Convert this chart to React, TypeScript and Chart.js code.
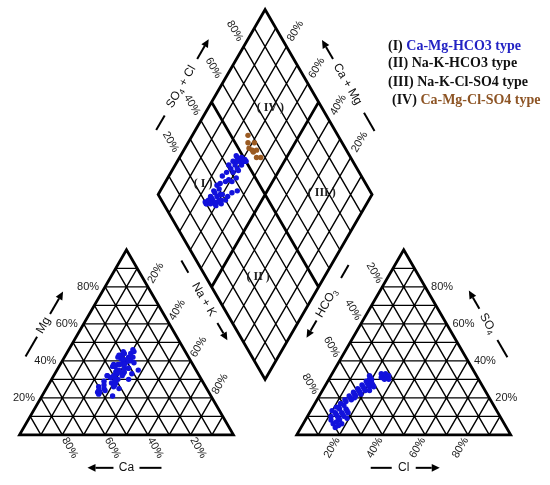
import React, { useEffect, useRef } from "react";
import { Chart, registerables } from "chart.js";

Chart.register(...registerables);

// ---------------- data (percent of meq) ----------------
// cations: Na+K = 100 - Ca - Mg
const sampleCaPct = [
  52, 50, 48, 46, 43, 39, 43, 43, 38, 37, 34, 31, 37, 37, 35, 31, 30, 32, 28, 33, 31, 32, 26, 29, 32,
  52, 46, 48, 41, 47, 41, 34, 42, 35, 36, 37, 29, 31, 29, 33, 38, 41, 43, 51, 40, 42, 28, 24, 26, 32, 51, 37, 38, 24, 40,
  36, 31, 34, 31, 29, 27, 37, 27, 36,
];
const sampleMgPct = [
  23, 26, 25, 29, 28, 30, 32, 32, 34, 35, 34, 36, 37, 38, 38, 39, 40, 41, 42, 42, 43, 43, 44, 45, 39,
  22, 21, 24, 25, 27, 28, 30, 31, 33, 35, 37, 40, 41, 44, 36, 33, 29, 26, 23, 31, 27, 40, 46, 42, 38, 24, 34, 37, 45, 32,
  34, 36, 38, 33, 40, 35, 37, 39, 32,
];
// anions: HCO3 = 100 - SO4 - Cl
const sampleSo4Pct = [
  4, 6, 6, 8, 8, 9, 10, 10, 10, 12, 12, 12, 13, 14, 14, 15, 16, 7, 11, 5, 9, 13, 15, 11, 17,
  18, 19, 20, 21, 21, 22, 23, 23, 24, 25, 25, 26, 27, 26, 27, 28, 28, 29, 29, 30, 30, 31, 27, 32, 24, 22, 20, 19, 26, 24,
  31, 31, 32, 30, 32, 33, 31, 30, 33,
];
const sampleClPct = [
  16, 14, 18, 12, 16, 19, 11, 14, 17, 12, 15, 18, 10, 13, 16, 11, 14, 15, 13, 17, 15, 17, 12, 16, 12,
  14, 13, 15, 14, 17, 16, 15, 18, 17, 16, 19, 18, 17, 21, 20, 19, 21, 20, 18, 19, 20, 19, 22, 18, 20, 19, 17, 16, 23, 22,
  24, 25, 24, 26, 27, 25, 27, 28, 23,
];

const gridPct = [10, 20, 30, 40, 50, 60, 70, 80, 90];
const tickPct = [20, 40, 60, 80];

const legendLines = [
  { tag: "(I) ", name: "Ca-Mg-HCO3 type", color: "#2323c4" },
  { tag: "(II) ", name: "Na-K-HCO3 type", color: "#111111" },
  { tag: "(III) ", name: "Na-K-Cl-SO4 type", color: "#111111" },
  { tag: "(IV) ", name: "Ca-Mg-Cl-SO4 type", color: "#8d5424" },
];
const regionNames = ["( I )", "( II )", "( III )", "( IV )"];

// ---------------- layout ----------------
const W = 550;
const H = 485;
type P = { x: number; y: number };
const V = (x: number, y: number): P => ({ x, y });
const add = (a: P, b: P, k = 1): P => V(a.x + b.x * k, a.y + b.y * k);
const mid = (a: P, b: P): P => V((a.x + b.x) / 2, (a.y + b.y) / 2);
const S3 = Math.sqrt(3) / 2;

const CAT = { a: V(17, 437), b: V(125, 250), c: V(233, 437) }; // a: Ca, b: Mg, c: Na+K
const ANI = { a: V(297, 437), b: V(405, 250), c: V(513, 437) }; // a: HCO3, b: SO4, c: Cl
const DIA = { l: V(157, 194), t: V(265, 7), b: V(265, 381) };

type Tri = { a: P; b: P; c: P };
const tern = (T: Tri, a: number, b: number, c: number): P =>
  V(T.a.x * a + T.b.x * b + T.c.x * c, T.a.y * a + T.b.y * b + T.c.y * c);
const catPt = (ca: number, mg: number) => tern(CAT, ca / 100, mg / 100, (100 - ca - mg) / 100);
const aniPt = (so4: number, cl: number) => tern(ANI, (100 - so4 - cl) / 100, so4 / 100, cl / 100);
const diaPt = (nak: number, so4cl: number): P =>
  V(
    DIA.l.x + ((DIA.t.x - DIA.l.x) * so4cl) / 100 + ((DIA.b.x - DIA.l.x) * nak) / 100,
    DIA.l.y + ((DIA.t.y - DIA.l.y) * so4cl) / 100 + ((DIA.b.y - DIA.l.y) * nak) / 100
  );
const DIA_R = diaPt(100, 100);

const BLUE = "#1212dc";
const BROWN = "#9a5a22";
const SANS = '"Liberation Sans", Arial, "DejaVu Sans", sans-serif';
const SERIF = '"Liberation Serif", "Times New Roman", serif';

const GAP = { x: null as any, y: null as any };
const joinSegs = (segs: P[][]) => {
  const out: any[] = [];
  segs.forEach((s) => {
    s.forEach((p) => out.push(p));
    out.push(GAP);
  });
  return out;
};

const triGrid = (T: Tri) => {
  const segs: P[][] = [];
  gridPct.forEach((g) => {
    const f = g / 100;
    const r = 1 - f;
    segs.push([tern(T, f, r, 0), tern(T, f, 0, r)]);
    segs.push([tern(T, r, f, 0), tern(T, 0, f, r)]);
    segs.push([tern(T, r, 0, f), tern(T, 0, r, f)]);
  });
  return segs;
};

const thinSegs: P[][] = [...triGrid(CAT), ...triGrid(ANI)];
const thickSegs: P[][] = [
  [CAT.a, CAT.b, CAT.c, CAT.a, CAT.b],
  [ANI.a, ANI.b, ANI.c, ANI.a, ANI.b],
  [DIA.l, DIA.t, DIA_R, DIA.b, DIA.l, DIA.t],
];
gridPct.forEach((g) => {
  const a = [diaPt(0, g), diaPt(100, g)];
  const b = [diaPt(g, 0), diaPt(g, 100)];
  if (g === 50) thickSegs.push(a, b);
  else thinSegs.push(a, b);
});

const catPoints = sampleCaPct.map((ca, i) => catPt(ca, sampleMgPct[i]));
const aniPoints = sampleSo4Pct.map((s, i) => aniPt(s, sampleClPct[i]));
const diaBlue: P[] = [];
const diaBrown: P[] = [];
sampleCaPct.forEach((ca, i) => {
  const nak = 100 - ca - sampleMgPct[i];
  const sc = sampleSo4Pct[i] + sampleClPct[i];
  const p = diaPt(nak, sc);
  if (sc > 50 && nak < 50) diaBrown.push(p);
  else diaBlue.push(p);
});

// ---------------- text helpers ----------------
type Part = { t: string; sub?: boolean };
function drawRich(
  ctx: CanvasRenderingContext2D,
  parts: Part[],
  c: P,
  rotDeg: number,
  size: number,
  color: string,
  font = SANS,
  align: "center" | "left" | "right" = "center",
  weight = ""
) {
  ctx.save();
  ctx.translate(c.x, c.y);
  ctx.rotate((rotDeg * Math.PI) / 180);
  ctx.fillStyle = color;
  ctx.textBaseline = "middle";
  ctx.textAlign = "left";
  const fontOf = (p: Part) => `${weight} ${p.sub ? Math.round(size * 0.7) : size}px ${font}`;
  let total = 0;
  parts.forEach((p) => {
    ctx.font = fontOf(p);
    total += ctx.measureText(p.t).width;
  });
  let x = align === "center" ? -total / 2 : align === "right" ? -total : 0;
  parts.forEach((p) => {
    ctx.font = fontOf(p);
    ctx.fillText(p.t, x, p.sub ? size * 0.3 : 0);
    x += ctx.measureText(p.t).width;
  });
  ctx.restore();
}

type Title = {
  parts: Part[];
  m: P;
  nrm: P;
  off: number;
  dir: P;
  along: number;
  rot: number;
  tail: [number, number];
  head: [number, number];
};
const titles: Title[] = [
  { parts: [{ t: "Mg" }], m: mid(CAT.a, CAT.b), nrm: V(-S3, -0.5), off: 34, dir: V(0.5, -S3), along: 0, rot: -60, tail: [-36, -13], head: [13, 39] },
  { parts: [{ t: "Ca" }], m: mid(CAT.a, CAT.c), nrm: V(0, 1), off: 33, dir: V(-1, 0), along: 0, rot: 0, tail: [-35, -13], head: [13, 39] },
  { parts: [{ t: "Cl" }], m: mid(ANI.a, ANI.c), nrm: V(0, 1), off: 33, dir: V(1, 0), along: 0, rot: 0, tail: [-33, -12], head: [12, 36] },
  { parts: [{ t: "SO" }, { t: "4", sub: true }], m: mid(ANI.c, ANI.b), nrm: V(S3, -0.5), off: 36, dir: V(-0.5, -S3), along: 1, rot: 60, tail: [-39, -19], head: [17, 38] },
  { parts: [{ t: "Na + K" }], m: mid(DIA.l, DIA.b), nrm: V(-S3, 0.5), off: 13, dir: V(0.5, S3), along: 7, rot: 60, tail: [-45, -31], head: [27, 47] },
  { parts: [{ t: "HCO" }, { t: "3", sub: true }], m: mid(DIA_R, DIA.b), nrm: V(S3, 0.5), off: 15, dir: V(-0.5, S3), along: 10, rot: -60, tail: [-44, -29], head: [20, 40] },
  { parts: [{ t: "SO" }, { t: "4", sub: true }, { t: " + Cl" }], m: mid(DIA.l, DIA.t), nrm: V(-S3, -0.5), off: 34, dir: V(0.5, -S3), along: -2, rot: -60, tail: [-50, -33], head: [32, 55] },
  { parts: [{ t: "Ca + Mg" }], m: mid(DIA_R, DIA.t), nrm: V(S3, -0.5), off: 34, dir: V(-0.5, -S3), along: 1, rot: 60, tail: [-54, -33], head: [29, 51] },
];

const annotate = {
  id: "annotate",
  afterDatasetsDraw(chart: any) {
    const ctx: CanvasRenderingContext2D = chart.ctx;
    const xs = chart.scales.x;
    const ys = chart.scales.y;
    const px = (p: P): P => V(xs.getPixelForValue(p.x), ys.getPixelForValue(p.y));
    const TXT = "#1c1c1c";
    const pct = (p: number): Part[] => [{ t: `${p}%` }];

    // cation triangle ticks
    tickPct.forEach((p) => {
      const s = px(catPt(100 - p, p));
      drawRich(ctx, pct(p), V(s.x - 6, s.y), 0, 11, TXT, SANS, "right");
      drawRich(ctx, pct(p), add(px(catPt(p, 0)), V(0.5, S3), 15), 60, 11, TXT);
      drawRich(ctx, pct(p), add(px(catPt(0, 100 - p)), V(0.5, -S3), 16), -60, 11, TXT);
    });
    // anion triangle ticks
    tickPct.forEach((p) => {
      const s = px(aniPt(p, 100 - p));
      drawRich(ctx, pct(p), V(s.x + 6, s.y), 0, 11, TXT, SANS, "left");
      drawRich(ctx, pct(p), add(px(aniPt(0, p)), V(-0.5, S3), 15), -60, 11, TXT);
      drawRich(ctx, pct(p), add(px(aniPt(100 - p, 0)), V(-0.5, -S3), 16), 60, 11, TXT);
    });
    // diamond ticks
    tickPct.forEach((p) => {
      drawRich(ctx, pct(p), add(px(diaPt(0, p)), V(-0.5, -S3), 18), 60, 11, TXT);
      drawRich(ctx, pct(p), add(px(diaPt(100 - p, 100)), V(0.5, -S3), 18), -60, 11, TXT);
    });

    // axis titles with arrows
    titles.forEach((t) => {
      const c = add(add(px(t.m), t.nrm, t.off), t.dir, t.along);
      ctx.save();
      ctx.strokeStyle = "#000";
      ctx.fillStyle = "#000";
      ctx.lineWidth = 2;
      ctx.lineCap = "butt";
      const a0 = add(c, t.dir, t.tail[0]);
      const a1 = add(c, t.dir, t.tail[1]);
      ctx.beginPath();
      ctx.moveTo(a0.x, a0.y);
      ctx.lineTo(a1.x, a1.y);
      ctx.stroke();
      const h0 = add(c, t.dir, t.head[0]);
      const tip = add(c, t.dir, t.head[1]);
      const base = add(c, t.dir, t.head[1] - 8);
      ctx.beginPath();
      ctx.moveTo(h0.x, h0.y);
      ctx.lineTo(base.x, base.y);
      ctx.stroke();
      const n = V(-t.dir.y, t.dir.x);
      const w1 = add(base, n, 3.8);
      const w2 = add(base, n, -3.8);
      ctx.beginPath();
      ctx.moveTo(tip.x, tip.y);
      ctx.lineTo(w1.x, w1.y);
      ctx.lineTo(w2.x, w2.y);
      ctx.closePath();
      ctx.fill();
      ctx.restore();
      drawRich(ctx, t.parts, c, t.rot, 12, "#111");
    });

    // region labels in the diamond
    const regionPos = [diaPt(18, 24), diaPt(69, 24.5), diaPt(76, 77), diaPt(29, 76)];
    regionNames.forEach((r, i) => {
      drawRich(ctx, [{ t: r }], px(regionPos[i]), 0, 12, "#222", SERIF, "center", "bold");
    });

    // legend
    const legendPos = [V(388, 46), V(388, 63), V(388, 82), V(392, 100)];
    legendLines.forEach((l, i) => {
      ctx.save();
      ctx.font = `bold 14px ${SERIF}`;
      ctx.textBaseline = "middle";
      ctx.textAlign = "left";
      const p = legendPos[i];
      ctx.fillStyle = "#111";
      ctx.fillText(l.tag, p.x, p.y);
      const w = ctx.measureText(l.tag).width;
      ctx.fillStyle = l.color;
      ctx.fillText(l.name, p.x + w, p.y);
      ctx.restore();
    });
  },
};

const lineDs = (data: any[], width: number, order: number) => ({
  data,
  showLine: true,
  borderColor: "#000",
  borderWidth: width,
  pointRadius: 0,
  pointHoverRadius: 0,
  fill: false,
  spanGaps: false,
  borderJoinStyle: "miter",
  borderCapStyle: "butt",
  clip: false,
  order,
});
const pointDs = (data: P[], color: string) => ({
  data,
  showLine: false,
  pointRadius: 2.7,
  pointHoverRadius: 2.7,
  backgroundColor: color,
  borderColor: color,
  borderWidth: 0,
  clip: false,
  order: 0,
});

export default function App() {
  const ref = useRef<HTMLCanvasElement>(null);
  useEffect(() => {
    const canvas = ref.current;
    if (!canvas) return;
    const chart = new Chart(canvas, {
      type: "scatter",
      data: {
        datasets: [
          pointDs(catPoints, BLUE),
          pointDs(aniPoints, BLUE),
          pointDs(diaBlue, BLUE),
          pointDs(diaBrown, BROWN),
          lineDs(joinSegs(thickSegs), 2.8, 1),
          lineDs(joinSegs(thinSegs), 1.4, 2),
        ] as any,
      },
      options: {
        animation: false,
        responsive: false,
        maintainAspectRatio: false,
        events: [],
        layout: { padding: 0 },
        plugins: { legend: { display: false }, tooltip: { enabled: false } },
        scales: {
          x: { type: "linear", min: 0, max: W, display: false },
          y: { type: "linear", min: 0, max: H, reverse: true, display: false },
        },
      } as any,
      plugins: [annotate as any],
    });
    return () => chart.destroy();
  }, []);
  return (
    <div style={{ position: "fixed", left: 0, top: 0, width: W, height: H, background: "#fff" }}>
      <canvas ref={ref} width={W} height={H} style={{ display: "block", width: W, height: H }} />
    </div>
  );
}
